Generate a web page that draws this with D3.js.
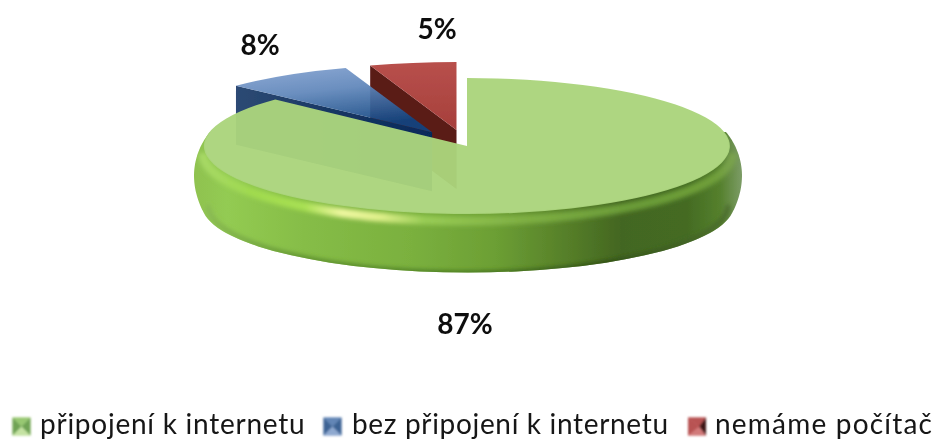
<!DOCTYPE html>
<html>
<head>
<meta charset="utf-8">
<script src="https://cdn.jsdelivr.net/npm/d3@7"></script>
<style>html,body{margin:0;padding:0;background:#fff;overflow:hidden}svg{display:block}</style>
</head>
<body>
<svg id="c" width="935" height="439"></svg>
<script>
const categories = ["připojení k internetu", "bez připojení k internetu", "nemáme počítač"];
const values = [87, 7.8, 5.2];
const valueLabels = ["87%", "8%", "5%"];

const W = 935, H = 439;
const cx = 467, cy = 146, rx = 269, ry = 68, depth = 59, explodeK = 0.24;
const topRx = 263, wallCx = 468, bulge = 11;
const sx = d3.scaleLinear().domain([-1, 1]).range([cx - rx, cx + rx]);
const sy = d3.scaleLinear().domain([-1, 1]).range([cy - ry, cy + ry]);
const svg = d3.select("#c").attr("viewBox", [0, 0, W, H]);
const defs = svg.append("defs");

function grad(id, x1, y1, x2, y2, stops, user) {
  const g = defs.append("linearGradient").attr("id", id)
    .attr("x1", x1).attr("y1", y1).attr("x2", x2).attr("y2", y2);
  if (user) g.attr("gradientUnits", "userSpaceOnUse");
  stops.forEach(s => g.append("stop").attr("offset", s[0]).attr("stop-color", s[1]));
}
function blur(id, s) {
  defs.append("filter").attr("id", id)
    .attr("x", "-20%").attr("y", "-20%").attr("width", "140%").attr("height", "140%")
    .append("feGaussianBlur").attr("stdDeviation", s);
}
blur("soft", 0.6); blur("softer", 0.9); blur("text", 0.3); blur("b2", 2.2);

const wx0 = wallCx - topRx - bulge, wx1 = wallCx + topRx + bulge;
grad("gWall", wx0, 0, wx1, 0, [
  [0, "#8fc250"], [0.06, "#93cb52"], [0.2, "#86bd47"], [0.4, "#7ab03e"], [0.55, "#6c9f34"],
  [0.68, "#567f29"], [0.78, "#436621"], [0.9, "#446b23"], [0.96, "#55802d"], [1, "#7c9c66"]
], true);
grad("gRim", wx0, 0, wx1, 0, [
  [0, "#a8d86a"], [0.1, "#a0da50"], [0.2, "#a8e052"], [0.27, "#eef7a0"], [0.34, "#dff08a"],
  [0.42, "#98cc55"], [0.6, "#7fb044"], [0.8, "#6a9b38"], [0.95, "#6f9f3a"], [1, "#7fa45a"]
], true);
grad("gBase", wx0, 0, wx1, 0, [
  [0, "#8fbf58"], [0.2, "#5f9230"], [0.5, "#4a7a22"], [0.75, "#2f4f17"], [1, "#4f7030"]
], true);
grad("gBlue", 0, 0, 0.35, 1, [[0, "#86a4d2"], [0.45, "#5f86ba"], [1, "#114480"]]);
grad("gRed", 0, 0, 0, 1, [[0, "#b8504c"], [1, "#a63f3b"]]);
grad("gBlueWall", 0, 0, 1, 0, [[0, "#2d4a74"], [0.5, "#173763"], [1, "#06295a"]]);

const topFill = ["#abd47c", "url(#gBlue)", "url(#gRed)"];
const wallFill = [null, "url(#gBlueWall)", "#5a1b19"];

const pie = d3.pie().sort(null).value(d => d);
const arcs = pie(values);
const arc = d3.arc().innerRadius(0).outerRadius(1);

function offset(a, i) {
  if (i === 0) return [0, 0];
  const m = (a.startAngle + a.endAngle) / 2;
  return [explodeK * Math.sin(m), -explodeK * Math.cos(m)];
}
function pt(theta, off, dy) {
  return [sx(off[0] + Math.sin(theta)), sy(off[1] - Math.cos(theta)) + (dy || 0)];
}
const line = d3.line();

const chart = svg.append("g").attr("filter", "url(#soft)");

// Exploded slices, back to front
[2, 1].forEach(i => {
  const a = arcs[i], off = offset(a, i);
  const apex = [sx(off[0]), sy(off[1])];
  const edge = pt(a.startAngle, off);
  chart.append("path")
    .attr("d", line([apex, edge, [edge[0], edge[1] + depth], [apex[0], apex[1] + depth]]) + "Z")
    .attr("fill", wallFill[i]);
  chart.append("path")
    .attr("d", arc.startAngle(a.startAngle).endAngle(a.endAngle)())
    .attr("transform", `translate(${apex[0]},${apex[1]}) scale(${rx},${ry})`)
    .attr("fill", topFill[i])
    .attr("fill-opacity", i === 1 ? 0.93 : 1);
});

// Green side wall: a stack of ellipses following a rounded profile
const g = arcs[0];
const steps = d3.range(0, depth + 0.01, 1.5);
const prof = dy => {
  const t = dy / depth;
  const r = t < 0.5
    ? topRx + bulge * Math.pow(Math.sin(Math.PI * t), 0.7)
    : topRx + bulge - 8 * Math.pow((t - 0.5) / 0.5, 2);
  return { r, cy: cy + dy };
};
const clip = defs.append("clipPath").attr("id", "wallClip");
clip.selectAll("ellipse").data(steps).join("ellipse")
  .attr("cx", wallCx).attr("cy", d => prof(d).cy)
  .attr("rx", d => prof(d).r).attr("ry", ry);

// The wall stays out of the top surface so the hidden slices show through it
const mask = defs.append("mask").attr("id", "wallMask")
  .attr("maskUnits", "userSpaceOnUse").attr("x", 0).attr("y", 0).attr("width", W).attr("height", H);
mask.append("rect").attr("width", W).attr("height", H).attr("fill", "#fff");
mask.append("ellipse").attr("cx", sx(0)).attr("cy", sy(0)).attr("rx", topRx - 1).attr("ry", ry - 1).attr("fill", "#000");

// ...and below the back half of the disc
const backCut = cy - 14;
defs.append("clipPath").attr("id", "notchClip").append("rect")
  .attr("x", 0).attr("y", backCut).attr("width", W).attr("height", H - backCut);

const wallOuter = chart.append("g").attr("mask", "url(#wallMask)").append("g").attr("clip-path", "url(#notchClip)");
const wall = wallOuter.append("g").attr("clip-path", "url(#wallClip)");
wall.append("rect").attr("x", wx0 - 2).attr("y", cy - ry).attr("width", wx1 - wx0 + 4).attr("height", depth + 2 * ry + 4)
  .attr("fill", "url(#gWall)");
const front = d3.range(Math.PI / 2, 3 * Math.PI / 2 + 0.001, 0.01);
const curve = (r, dy) => front.map(t => [wallCx + r * Math.sin(t), cy - ry * Math.cos(t) + dy]);
wall.append("path").attr("d", line(curve(topRx - 3, depth))).attr("fill", "none")
  .attr("stroke", "url(#gBase)").attr("stroke-width", 5).attr("filter", "url(#b2)");
wall.append("path").attr("d", line(curve(topRx + 2, 7))).attr("fill", "none")
  .attr("stroke", "url(#gRim)").attr("stroke-width", 9).attr("filter", "url(#b2)");

// Green top
chart.append("path")
  .attr("d", arc.startAngle(g.startAngle).endAngle(g.endAngle)())
  .attr("transform", `translate(${sx(0)},${sy(0)}) scale(${topRx},${ry})`)
  .attr("fill", topFill[0]).attr("fill-opacity", 0.965);

// Value labels
const labelPos = [[465, 324], [260, 45], [437, 29]];
svg.append("g").attr("filter", "url(#text)").selectAll("text").data(valueLabels).join("text")
  .attr("x", (d, i) => labelPos[i][0]).attr("y", (d, i) => labelPos[i][1])
  .attr("dy", "0.36em").attr("text-anchor", "middle")
  .attr("font-family", "Lato, sans-serif").attr("font-weight", 700).attr("font-size", 28)
  .attr("fill", "#111").text(d => d);

// Legend
const legendX = [40, 352, 715], markerX = [12.5, 323.5, 688], legendY = 434, mSize = 18;
const legendSpacing = [0.75, 0.67, 1.2];
const markerLight = ["#c4e2a2", "#8fa9d0", "#d27a7a"];
const markerMid = ["#98c872", "#6486b6", "#b85252"];
const markerDark = ["#6fa354", "#3d6494", "#3c1212"];
const leg = svg.append("g").selectAll("g").data(categories).join("g");
leg.each(function (d, i) {
  const s = d3.select(this), x = markerX[i], y = 417.5, m = mSize;
  const mid = [x + m * (i === 2 ? 0.62 : 0.5), y + m / 2];
  const mk = s.append("g").attr("filter", "url(#softer)");
  mk.append("rect").attr("x", x).attr("y", y).attr("width", m).attr("height", m).attr("fill", markerLight[i]);
  mk.append("path").attr("d", line([[x, y], [x + m, y], mid]) + "Z").attr("fill", markerMid[i]);
  mk.append("path").attr("d", line([[x, y + m], [x + m, y + m], mid]) + "Z").attr("fill", markerLight[i]);
  mk.append("path").attr("d", line([[x + m, y], [x + m, y + m], mid]) + "Z").attr("fill", markerDark[i]);
  mk.append("path").attr("d", line([[x, y], [x, y + m], mid]) + "Z").attr("fill", i < 2 ? markerDark[i] : markerMid[i]);
  s.append("text").attr("x", legendX[i]).attr("y", legendY).attr("filter", "url(#text)")
    .attr("font-family", "Lato, sans-serif").attr("font-size", 28).attr("letter-spacing", legendSpacing[i])
    .attr("fill", "#151515").text(d);
});
</script>
</body>
</html>
